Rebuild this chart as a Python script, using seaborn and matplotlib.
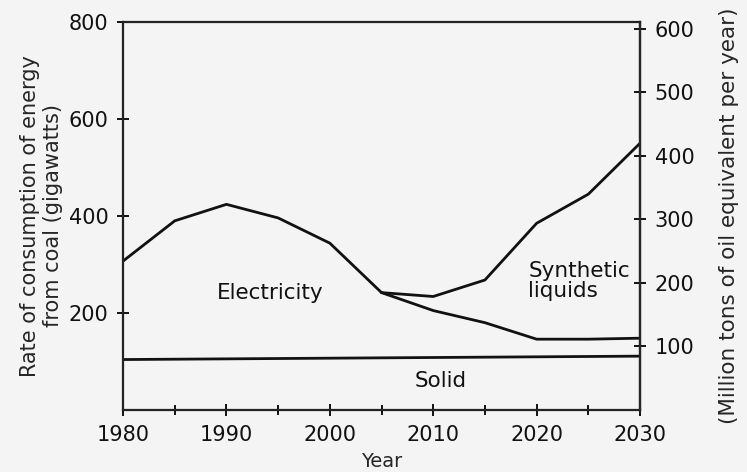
import numpy as np
import pandas as pd
import seaborn as sns
import matplotlib.pyplot as plt
from matplotlib.ticker import MultipleLocator

# values (left axis, gigawatts)
years = [1980, 1985, 1990, 1995, 2000, 2005]
electricity_early = [307, 390, 424, 396, 344, 242]

years_late = [2005, 2010, 2015, 2020, 2025, 2030]
synthetic_top = [242, 234, 268, 385, 445, 550]
electricity_late = [242, 205, 180, 146, 146, 148]

solid_years = [1980, 2030]
solid_top = [104, 111]

left_ticks = [200, 400, 600, 800]
right_ticks = [100, 200, 300, 400, 500, 600]
x_ticks = [1980, 1990, 2000, 2010, 2020, 2030]

sns.set_theme(style='ticks')
plt.rcParams['font.family'] = ['DejaVu Sans']

bg = '#f4f4f4'
fig, ax = plt.subplots(figsize=(7.47, 4.72), dpi=100, facecolor=bg)
fig.subplots_adjust(left=0.1647, right=0.8568, top=0.9534, bottom=0.1314)
ax.set_facecolor(bg)

df1 = pd.DataFrame({'Year': years, 'GW': electricity_early})
df2 = pd.DataFrame({'Year': years_late, 'GW': synthetic_top})
df3 = pd.DataFrame({'Year': years_late, 'GW': electricity_late})
df4 = pd.DataFrame({'Year': solid_years, 'GW': solid_top})

for d in [df1, df2, df3, df4]:
    sns.lineplot(data=d, x='Year', y='GW', ax=ax, color='#111111', linewidth=2.0)

ax.set_xlim(1980, 2030)
ax.set_ylim(0, 800)
ax.set_yticks(left_ticks)
ax.set_xticks(x_ticks)
ax.xaxis.set_minor_locator(MultipleLocator(5))
ax.tick_params(axis='both', which='both', direction='inout', length=9, width=1.4,
               labelsize=15, colors='#111111', pad=6)
ax.tick_params(axis='x', which='minor', length=7)
for s in ax.spines.values():
    s.set_linewidth(1.6)
    s.set_color('#111111')

ax.set_xlabel('Year', fontsize=14, labelpad=5)
ax.set_ylabel('Rate of consumption of energy\nfrom coal (gigawatts)', fontsize=15, labelpad=4)

ax2 = ax.twinx()
ax2.set_ylim(0, 611)
ax2.set_yticks(right_ticks)
ax2.tick_params(axis='y', direction='inout', length=9, width=1.4, labelsize=15,
                colors='#111111', pad=6)
ax2.spines['right'].set_linewidth(1.6)
ax2.set_ylabel('(Million tons of oil equivalent per year)', fontsize=15.5, labelpad=18)

ax.text(1994.2, 242, 'Electricity', fontsize=15.5, ha='center', va='center', color='#111111')
ax.text(2019.2, 266, 'Synthetic\nliquids', fontsize=15.5, ha='left', va='center',
        color='#111111', linespacing=0.95)
ax.text(2010.7, 59, 'Solid', fontsize=15.5, ha='center', va='center', color='#111111')

fig.savefig('out.png', dpi=100, facecolor=bg)
